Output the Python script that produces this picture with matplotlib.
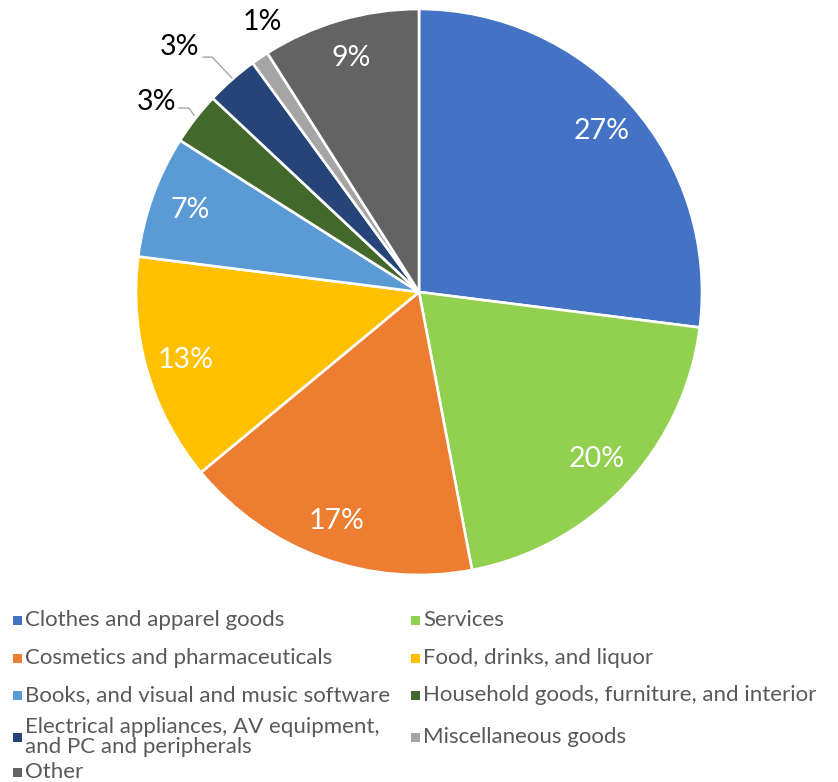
import numpy as np
import matplotlib
matplotlib.use("Agg")
import matplotlib.pyplot as plt
from matplotlib.patches import Rectangle

plt.rcParams["font.family"] = ["Lato", "DejaVu Sans"]

categories = [
    "Clothes and apparel goods",
    "Services",
    "Cosmetics and pharmaceuticals",
    "Food, drinks, and liquor",
    "Books, and visual and music software",
    "Household goods, furniture, and interior",
    "Electrical appliances, AV equipment,\nand PC and peripherals",
    "Miscellaneous goods",
    "Other",
]
shares = [27, 20, 17, 13, 7, 3, 3, 1, 9]
colors = ["#4472C4", "#92D050", "#ED7D31", "#FFC000", "#5B9BD5",
          "#43682B", "#264478", "#A5A5A5", "#636363"]

W, H = 838, 782
fig = plt.figure(figsize=(W / 100, H / 100), dpi=100)
cx, cy, r = 419, 292, 283
ax = fig.add_axes([(cx - r) / W, 1 - (cy + r) / H, 2 * r / W, 2 * r / H])

wedges, _ = ax.pie(shares, colors=colors, startangle=90, counterclock=False,
                   radius=1.0, wedgeprops=dict(edgecolor="white", linewidth=1.9))
ax.set_xlim(-1, 1)
ax.set_ylim(-1, 1)
ax.axis("off")

# small slices get outside labels; others inside
outside = {5: (-0.926, 0.671), 6: (-0.845, 0.866), 7: (-0.555, 0.954)}
leaders = {5: [(-0.795, 0.625), (-0.813, 0.650), (-0.848, 0.650)],
           6: [(-0.661, 0.756), (-0.731, 0.830), (-0.763, 0.830)]}

for i, (w, v) in enumerate(zip(wedges, shares)):
    mid = np.deg2rad((w.theta1 + w.theta2) / 2)
    if i in outside:
        x, y = outside[i]
        ax.text(x, y, f"{v}%", ha="center", va="center", fontsize=20.5, color="black")
        if i in leaders:
            pts = np.array(leaders[i])
            ax.plot(pts[:, 0], pts[:, 1], color="#A6A6A6", lw=1.0, clip_on=False)
    else:
        ax.text(0.86 * np.cos(mid), 0.86 * np.sin(mid), f"{v}%", ha="center",
                va="center", fontsize=20.5, color="white")

# legend (row-major, two columns)
col_x = [13, 411]
row_y = [620, 658, 695, 737, 772]
for i, (lab, c) in enumerate(zip(categories, colors)):
    col, row = i % 2, i // 2
    x0, y0 = col_x[col], row_y[row]
    fig.patches.append(Rectangle((x0 / W, 1 - (y0 + 5) / H), 9 / W, 9 / H,
                                 transform=fig.transFigure, facecolor=c,
                                 edgecolor="none"))
    fig.text((x0 + 12) / W, 1 - y0 / H, lab, ha="left", va="center",
             fontsize=16, color="#595959", linespacing=0.95)

fig.savefig("out.png", dpi=100)
